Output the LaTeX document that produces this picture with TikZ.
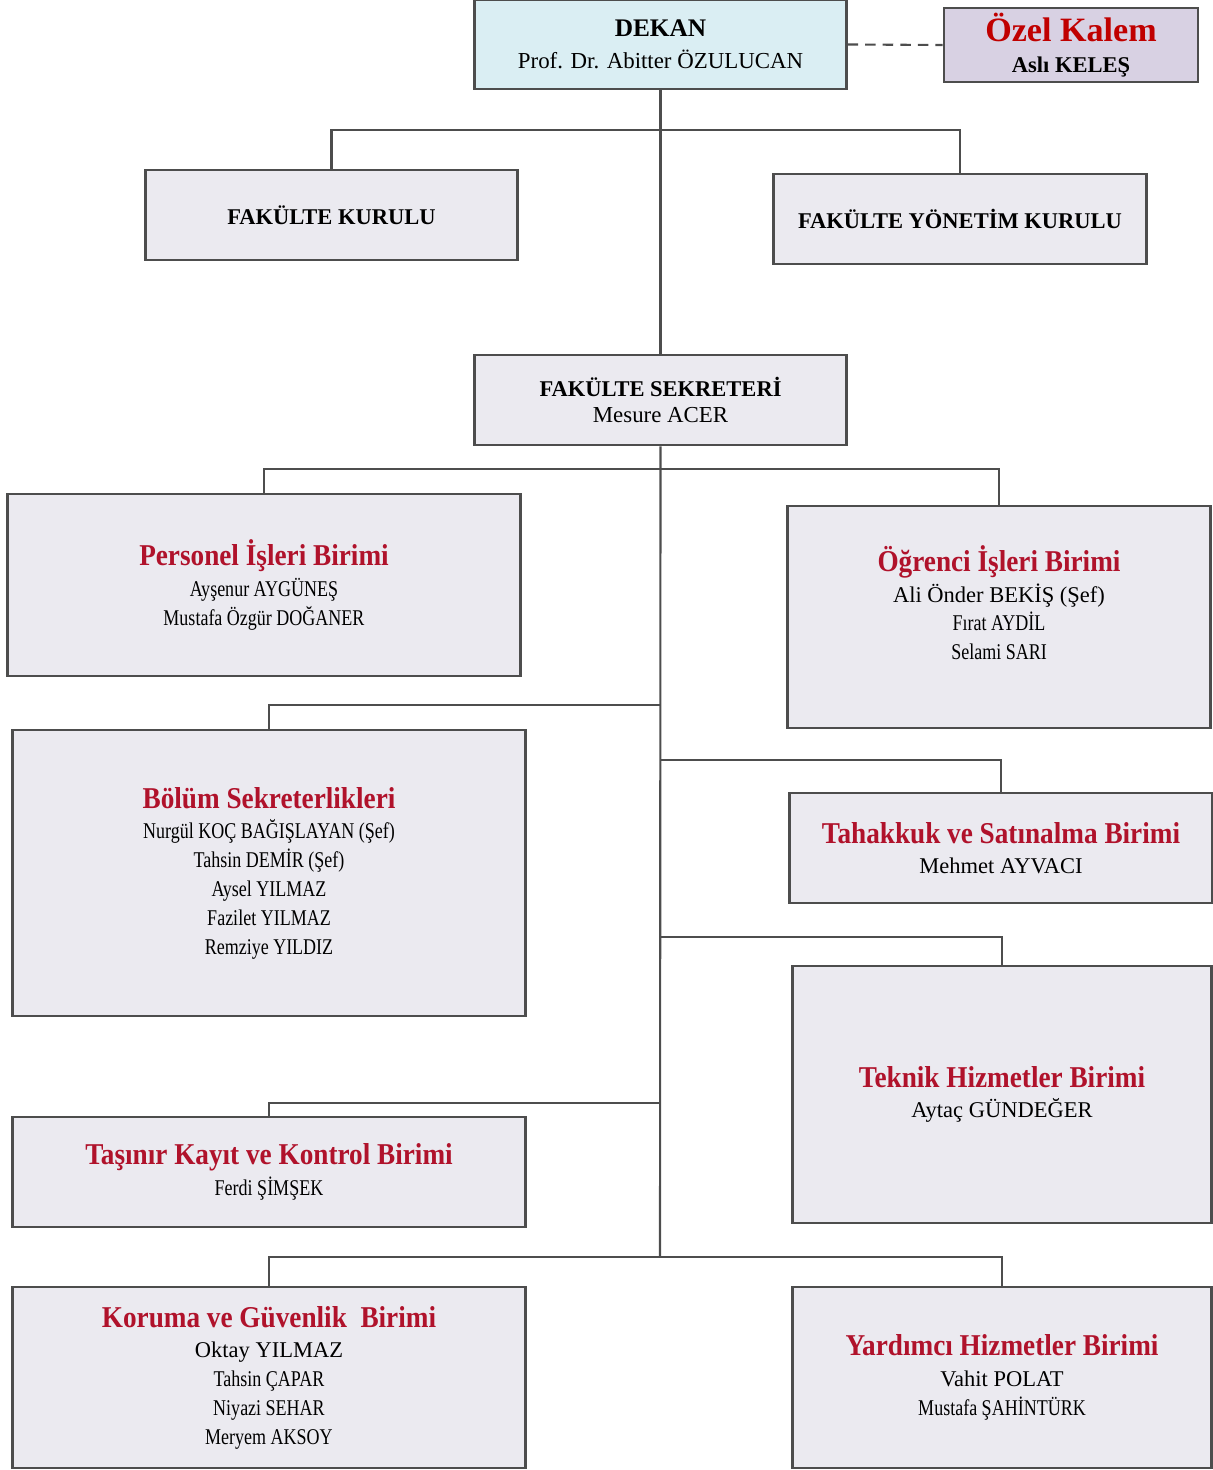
\documentclass[tikz,border=0pt]{standalone}
\usepackage{fontspec}
\setmainfont{Liberation Serif}
\newfontfamily\narrowfont[FakeStretch=0.8]{Liberation Serif}
\newfontfamily\titlefont[FakeStretch=0.9]{Liberation Serif}
\usetikzlibrary{positioning}
\definecolor{boxfill}{HTML}{EBEAF0}
\definecolor{boxline}{HTML}{4D4D4D}
\definecolor{dekanfill}{HTML}{DAEEF3}
\definecolor{kalemfill}{HTML}{D8D1E3}
\definecolor{unitred}{HTML}{B0122B}
\definecolor{kalemred}{HTML}{C00000}
\newcommand{\unittitle}[1]{{\titlefont\bfseries\fontsize{8.6}{10}\selectfont\color{unitred}#1}}

\begin{document}
\begin{tikzpicture}[
          x=0.01cm, y=-0.01cm,
          unit/.style={draw=boxline, fill=boxfill, line width=0.8pt, inner sep=0pt, align=center,
            font=\narrowfont\fontsize{6.4}{8.2}\selectfont},
          head/.style={unit, font=\bfseries\fontsize{6.4}{9}\selectfont},
          link/.style={draw=boxline, line width=0.6pt}
        ]
        \useasboundingbox (0,0) rectangle (1213,1470);

        % Top level
        \node[head, fill=dekanfill, minimum width=3.71cm, minimum height=0.89cm] (dekan) at (660.5,44.5)
          {{\fontsize{7.2}{9}\selectfont DEKAN}\\ {\mdseries\fontsize{6.5}{9}\selectfont Prof. Dr. Abitter ÖZULUCAN}};
        \node[head, fill=kalemfill, minimum width=2.54cm, minimum height=0.74cm] (ozel) at (1071,45)
          {{\fontsize{9.7}{11}\selectfont\color{kalemred}Özel Kalem}\\ Aslı KELEŞ};
        \node[head, minimum width=3.71cm, minimum height=0.9cm] (kurul) at (331.5,215) {FAKÜLTE KURULU};
        \node[head, minimum width=3.72cm, minimum height=0.9cm] (ykurul) at (960,219) {FAKÜLTE YÖNETİM KURULU};
        \node[head, minimum width=3.71cm, minimum height=0.9cm, font=\bfseries\fontsize{6.4}{7.6}\selectfont] (sekreter) at (660.5,400)
          {FAKÜLTE SEKRETERİ\\ {\mdseries\fontsize{6.5}{7.6}\selectfont Mesure ACER}};

        % Units, left column
        \node[unit, minimum width=5.12cm, minimum height=1.82cm] (personel) at (264,585)
          {\unittitle{Personel İşleri Birimi}\\[0.5pt] Ayşenur AYGÜNEŞ\\ Mustafa Özgür DOĞANER};
        \node[unit, minimum width=5.12cm, minimum height=2.86cm] (bolum) at (269,873)
          {\unittitle{Bölüm Sekreterlikleri}\\[0.5pt] Nurgül KOÇ BAĞIŞLAYAN (Şef)\\ Tahsin DEMİR (Şef)\\
           Aysel YILMAZ\\ Fazilet YILMAZ\\ Remziye YILDIZ};
        \node[unit, minimum width=5.12cm, minimum height=1.10cm] (tasinir) at (269,1172)
          {\unittitle{Taşınır Kayıt ve Kontrol Birimi}\\[0.5pt] Ferdi ŞİMŞEK};
        \node[unit, minimum width=5.12cm, minimum height=1.81cm] (koruma) at (269,1377.5)
          {\unittitle{Koruma ve Güvenlik\ \ Birimi}\\[0.5pt] {\rmfamily Oktay YILMAZ}\\ Tahsin ÇAPAR\\
           Niyazi SEHAR\\ Meryem AKSOY};

        % Units, right column
        \node[unit, minimum width=4.22cm, minimum height=2.22cm] (ogrenci) at (999,617)
          {\unittitle{Öğrenci İşleri Birimi}\\[0.5pt] {\rmfamily Ali Önder BEKİŞ (Şef)}\\ Fırat AYDİL\\ Selami SARI\\ \mbox{}};
        \node[unit, minimum width=4.22cm, minimum height=1.10cm] (tahakkuk) at (1001,848)
          {\unittitle{Tahakkuk ve Satınalma Birimi}\\[0.5pt] {\rmfamily Mehmet AYVACI}};
        \node[unit, minimum width=4.18cm, minimum height=2.57cm] (teknik) at (1002,1094.5)
          {\unittitle{Teknik Hizmetler Birimi}\\[0.5pt] {\rmfamily Aytaç GÜNDEĞER}};
        \node[unit, minimum width=4.18cm, minimum height=1.81cm] (yardimci) at (1002,1377.5)
          {\unittitle{Yardımcı Hizmetler Birimi}\\[0.5pt] {\rmfamily Vahit POLAT}\\ Mustafa ŞAHİNTÜRK};

        % Junctions on the trunk
        \coordinate (board) at (660,130);
        \coordinate (split) at (660,469);
        \coordinate (tobolum) at (660,705);
        \coordinate (totahakkuk) at (660,760);
        \coordinate (toteknik) at (660,937);
        \coordinate (totasinir) at (660,1103);
        \coordinate (trunkend) at (660,1257);

        % Connectors
        \draw[link, dashed, dash pattern=on 3pt off 2pt] (dekan.east) -- (ozel.west);
        \draw[link] (dekan.south) -- (sekreter.north);
        \draw[link] (kurul.north) |- (board) -| (ykurul.north);
        \draw[link] (sekreter.south) -- (trunkend);
        \draw[link] (personel.north) |- (split) -| (ogrenci.north);
        \draw[link] (bolum.north) |- (tobolum);
        \draw[link] (tahakkuk.north) |- (totahakkuk);
        \draw[link] (teknik.north) |- (toteknik);
        \draw[link] (tasinir.north) |- (totasinir);
        \draw[link] (koruma.north) |- (trunkend) -| (yardimci.north);

      \end{tikzpicture}
\end{document}
